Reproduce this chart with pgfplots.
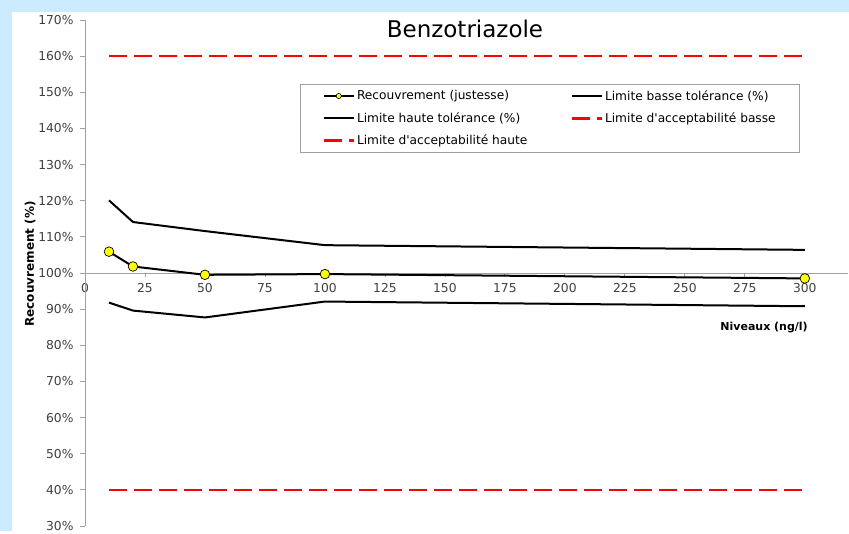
\documentclass[border=0pt]{standalone}
\usepackage{pgfplots}
\pgfplotsset{compat=1.18}
\usepackage{fontspec}
\setmainfont{DejaVu Sans}[Ligatures=TeXOff]

\definecolor{bgblue}{RGB}{204,235,255}
\definecolor{axgray}{RGB}{160,160,160}
\definecolor{ticktext}{RGB}{64,64,64}
\definecolor{markyellow}{RGB}{255,255,0}
\definecolor{limred}{RGB}{255,0,0}

\pgfplotstableread{
x   rec    basse  haute
10  105.9  91.8   120.1
20  101.8  89.6   114.1
50  99.5   87.7   111.6
100 99.7   92.1   107.7
300 98.5   90.8   106.4
}\datatable

\pgfplotstableread{
x   bas  haut
10  40   160
300 40   160
}\limtable

\begin{document}
\begin{tikzpicture}
% page background
\fill[bgblue] (0pt,0pt) rectangle (849pt,531pt);
\fill[white] (12pt,0pt) rectangle (849pt,519pt);

\pgfplotsset{
  chartframe/.style={
    width=763pt, height=506pt, scale only axis,
    at={(85pt,5pt)}, anchor=south west,
    xmin=0, xmax=318, clip=false,
    /pgf/number format/assume math mode=true,
    tick label style={font=\fontsize{12.3}{14}\selectfont, text=ticktext},
  },
}

% horizontal axis, crossing the vertical one at 100 %
\begin{axis}[chartframe,
  ymin=-70, ymax=70,
  axis x line*=middle, axis y line=none,
  axis line style={axgray, line width=0.8pt},
  xtick={0,25,...,300},
  hide obscured x ticks=false,
  tick align=outside, major tick length=4pt,
  xtick style={axgray, line width=0.8pt},
  xticklabel style={yshift=-3pt},
  xlabel={\bfseries Niveaux (ng/l)},
  xlabel style={at={(axis description cs:0.89,0.393)}, anchor=center,
    font=\fontsize{11}{13}\selectfont},
]
\end{axis}

\begin{axis}[chartframe,
  ymin=30, ymax=170,
  axis y line*=left, axis x line=none,
  axis line style={axgray, line width=0.8pt},
  ytick={30,40,...,170},
  yticklabel={\pgfmathprintnumber{\tick}\%},
  tick align=outside, major tick length=5pt,
  ytick style={axgray, line width=0.8pt},
  yticklabel style={xshift=-3pt},
  ylabel={\bfseries Recouvrement (\%)},
  ylabel style={at={(axis description cs:-0.072,0.518)}, anchor=center,
    rotate=0, font=\fontsize{12}{14}\selectfont},
  title={Benzotriazole},
  title style={at={(axis description cs:0.498,0.970)}, anchor=center,
    font=\fontsize{23}{27}\selectfont},
  legend columns=2,
  legend cell align=left,
  legend image code/.code={\draw (0pt,0pt) -- (30pt,0pt);},
  legend style={at={(0.2818,0.8735)}, anchor=north west,
    draw=axgray, line width=0.8pt,
    font=\fontsize{12.2}{14}\selectfont,
    inner xsep=22pt, inner ysep=4pt, row sep=7pt,
    /tikz/every even column/.append style={column sep=41pt}},
]
\addplot[black, line width=2pt, mark=*, mark size=4.8pt,
  mark options={fill=markyellow, draw=black, line width=0.7pt},
  legend image code/.code={
    \draw[black, line width=2pt] (0pt,0pt) -- (30pt,0pt);
    \draw[black, line width=0.6pt, fill=markyellow] (15pt,0pt) circle (2.6pt);}]
  table[x=x, y=rec] {\datatable};
\addlegendentry{Recouvrement (justesse)}
\addplot[black, line width=2pt] table[x=x, y=basse] {\datatable};
\addlegendentry{Limite basse tolérance (\%)}
\addplot[black, line width=2pt] table[x=x, y=haute] {\datatable};
\addlegendentry{Limite haute tolérance (\%)}
\addplot[limred, line width=2.6pt, dash pattern=on 18pt off 7pt] table[x=x, y=bas] {\limtable};
\addlegendentry{Limite d'acceptabilité basse}
\addplot[limred, line width=2.6pt, dash pattern=on 18pt off 7pt] table[x=x, y=haut] {\limtable};
\addlegendentry{Limite d'acceptabilité haute}
\end{axis}
\end{tikzpicture}
\end{document}
